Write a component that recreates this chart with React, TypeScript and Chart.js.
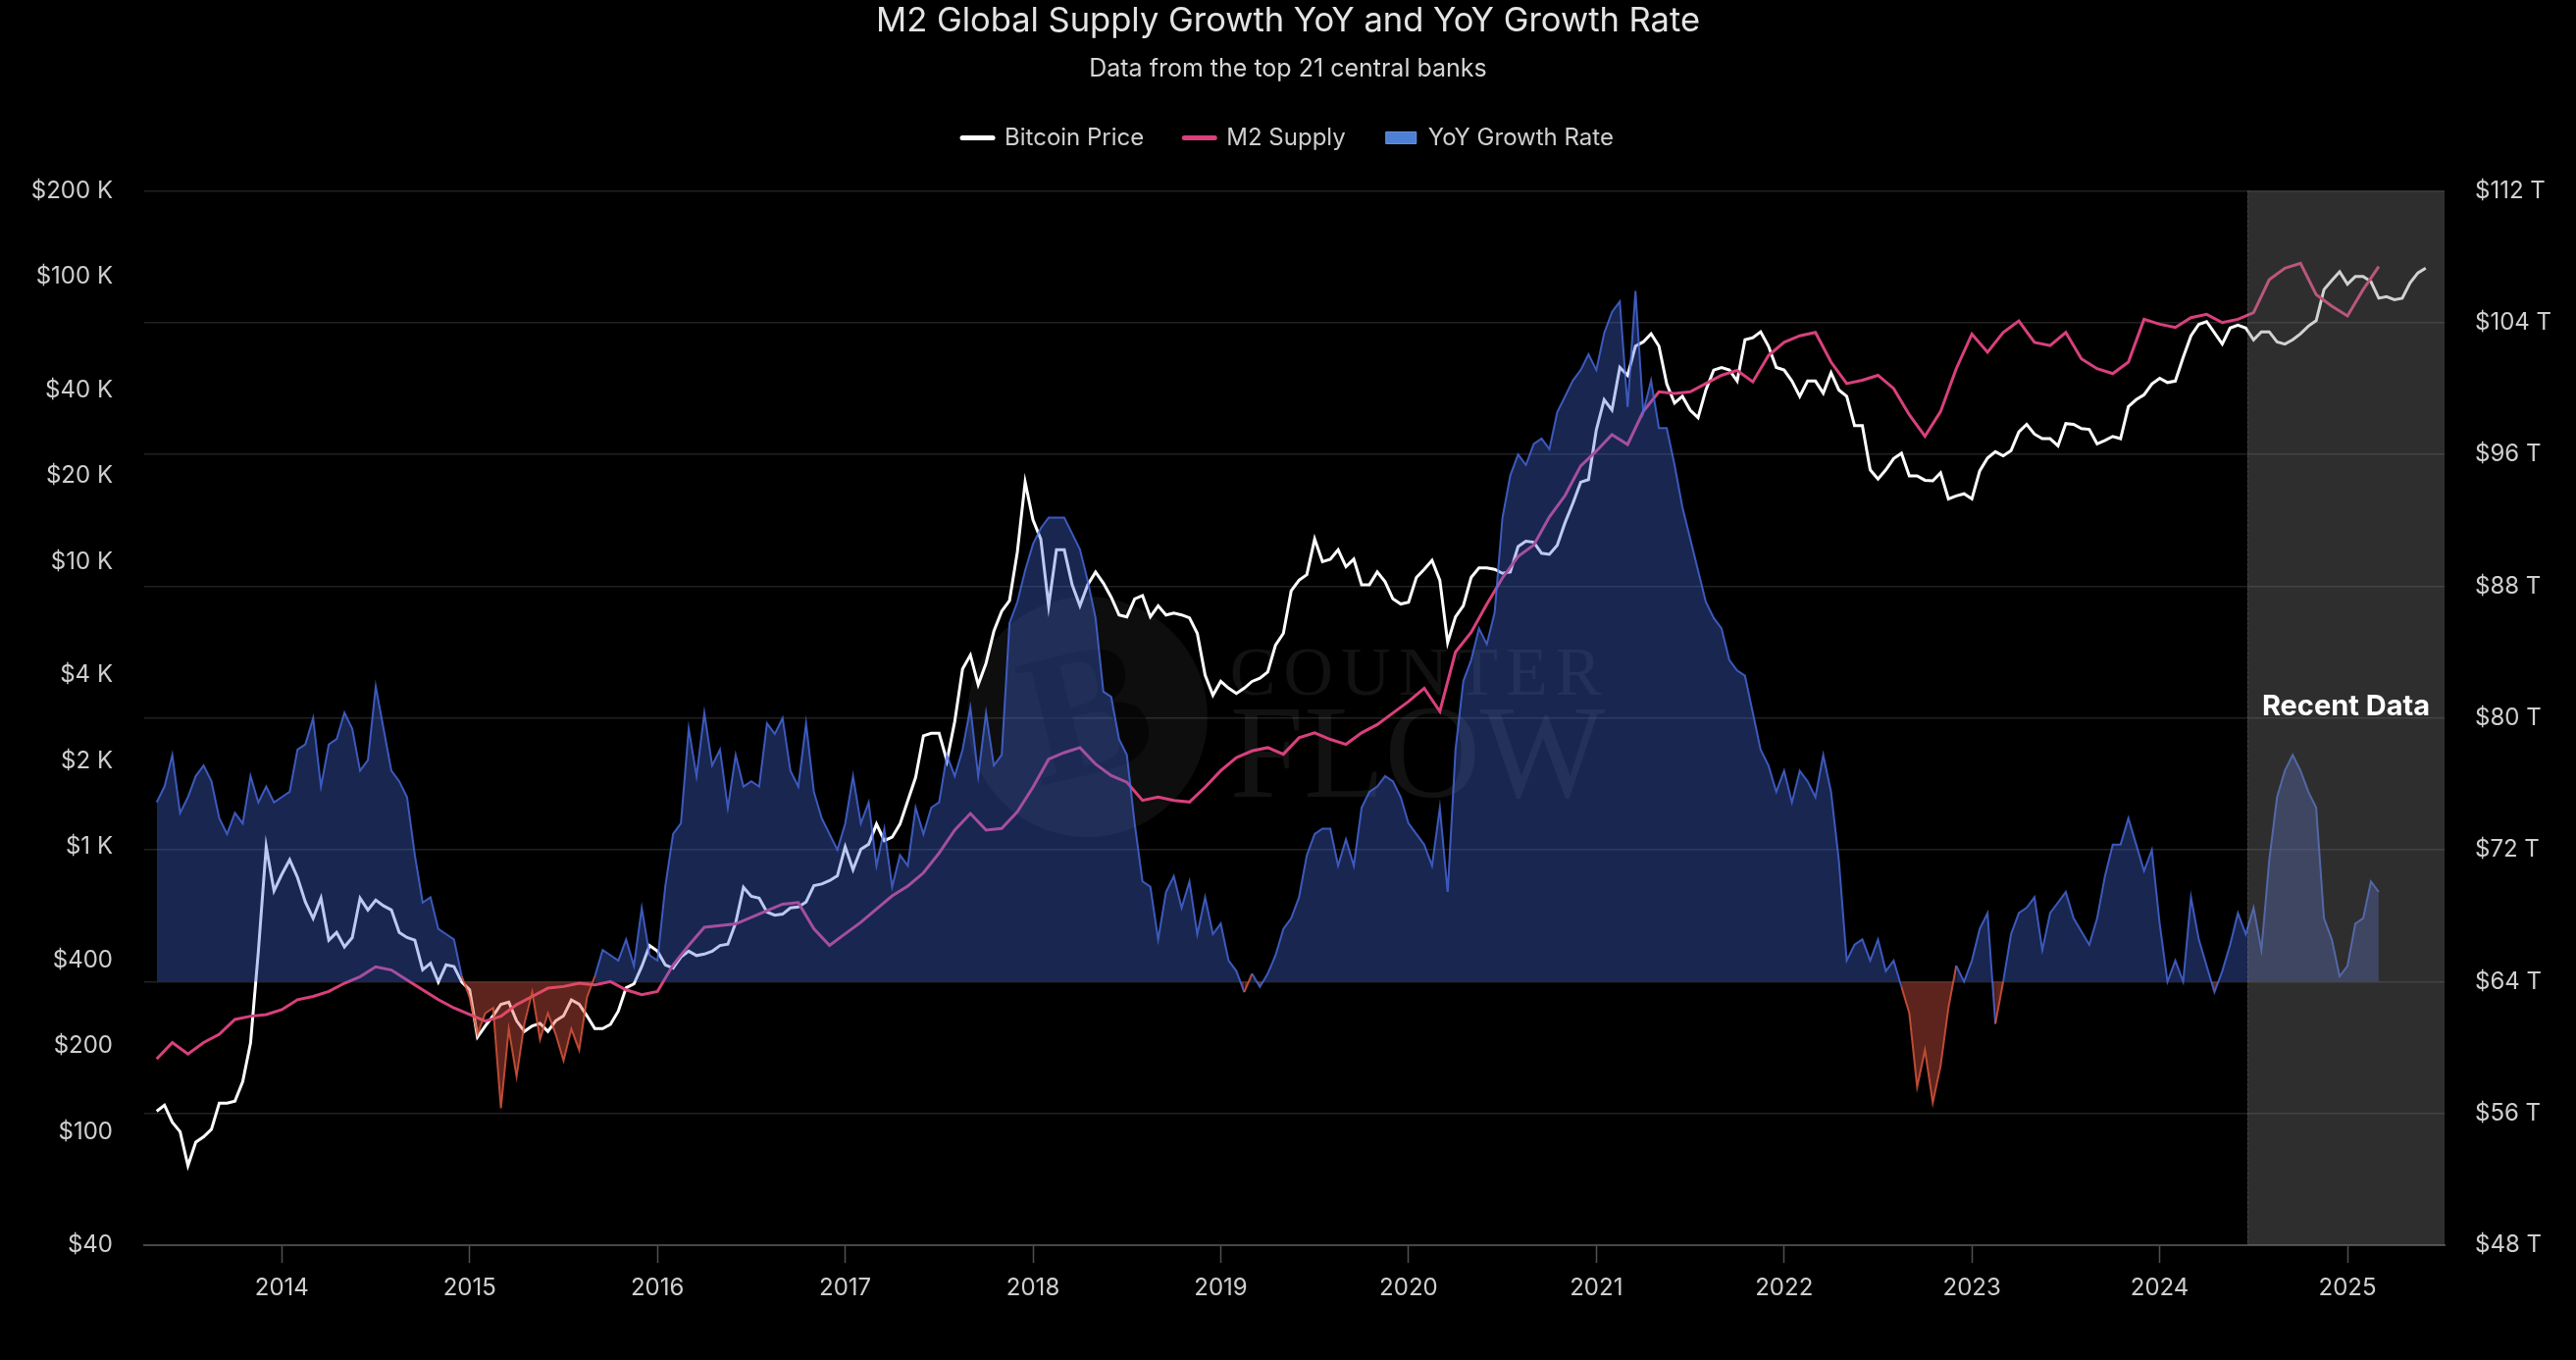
import { useEffect, useRef } from 'react'
import Chart from 'chart.js/auto'

const FONT = 'Inter'

// every series starts on 1 May 2013
const FIRST_SAMPLE = 2013 + 4 / 12

// Bitcoin weekly close, read twice a month (USD)
const btcPrice = [
  118, 124, 108, 100, 76, 92, 96, 102, 126, 126, 128, 150, 205, 430, 1000, 700, // 2013 May-Dec
  800, 900, 780, 640, 560, 660, 470, 500, 445, 480, 660, 600, 650, 620, 600, 500, 480, 470, 370, 390, 335, 385, 380, 335,
  315, 215, 235, 255, 280, 285, 245, 225, 235, 240, 225, 245, 255, 290, 280, 255, 230, 230, 238, 265, 320, 330, 380, 450,
  430, 385, 375, 410, 430, 415, 420, 430, 450, 455, 540, 720, 670, 660, 590, 575, 580, 610, 615, 640, 730, 740, 760, 790,
  1000, 830, 980, 1020, 1200, 1050, 1080, 1200, 1450, 1750, 2450, 2500, 2500, 2000, 2750, 4200, 4700, 3700, 4400, 5700, 6700, 7300, 10800, 19000,
  14000, 12000, 7000, 11000, 11000, 8300, 7000, 8300, 9200, 8400, 7500, 6500, 6400, 7400, 7600, 6400, 7000, 6500, 6600, 6500, 6350, 5600, 4000, 3400,
  3800, 3600, 3450, 3600, 3800, 3900, 4100, 5100, 5600, 7900, 8600, 9000, 12000, 10000, 10200, 11000, 9600, 10200, 8300, 8300, 9200, 8500, 7400, 7100,
  7200, 8800, 9400, 10100, 8600, 5200, 6400, 7000, 8800, 9500, 9500, 9400, 9100, 9200, 11300, 11800, 11700, 10700, 10600, 11400, 13700, 16000, 19000, 19400,
  29000, 37000, 34000, 48000, 45000, 57000, 59000, 63000, 57000, 42000, 36000, 38000, 34000, 32000, 40000, 47000, 48000, 47000, 43000, 60000, 61000, 64000, 57000, 48000,
  47000, 43000, 38000, 43000, 43000, 39000, 46000, 40000, 38000, 30000, 30000, 21000, 19500, 21000, 23000, 24000, 20000, 20000, 19300, 19200, 20500, 16600, 17000, 17300,
  16600, 20800, 23100, 24300, 23500, 24500, 28500, 30300, 28000, 27000, 27000, 25500, 30500, 30300, 29300, 29100, 25900, 26600, 27500, 27000, 35000, 37000, 38500, 42000,
  44000, 42500, 43000, 52000, 62000, 68000, 69500, 63500, 58000, 66000, 67500, 66000, 60000, 64000, 64000, 59000, 58000, 60000, 63000, 67000, 70000, 90000, 97000, 104000,
  94000, 100000, 100000, 96000, 84000, 85000, 83000, 84000, 95000, 103000, 107000, // 2025 Jan-Jun
]

// global M2 year-over-year growth, twice a month (%)
const yoyGrowth = [
  3.4, 3.7, 4.3, 3.2, 3.5, 3.9, 4.1, 3.8, 3.1, 2.8, 3.2, 3.0, 3.9, 3.4, 3.7, 3.4, // 2013 May-Dec
  3.5, 3.6, 4.4, 4.5, 5.0, 3.7, 4.5, 4.6, 5.1, 4.8, 4.0, 4.2, 5.6, 4.8, 4.0, 3.8, 3.5, 2.4, 1.5, 1.6, 1.0, 0.9, 0.8, 0.1,
  -0.3, -1.0, -0.6, -0.5, -2.4, -0.9, -1.8, -0.8, -0.2, -1.1, -0.6, -1.0, -1.5, -0.9, -1.3, -0.3, 0.1, 0.6, 0.5, 0.4, 0.8, 0.3, 1.4, 0.5,
  0.4, 1.8, 2.8, 3.0, 4.8, 3.9, 5.1, 4.1, 4.4, 3.3, 4.3, 3.7, 3.8, 3.7, 4.9, 4.7, 5.0, 4.0, 3.7, 4.9, 3.6, 3.1, 2.8, 2.5,
  3.0, 3.9, 3.0, 3.4, 2.2, 2.9, 1.8, 2.4, 2.2, 3.3, 2.8, 3.3, 3.4, 4.3, 3.9, 4.4, 5.2, 3.9, 5.1, 4.1, 4.3, 6.8, 7.2, 7.8,
  8.3, 8.6, 8.8, 8.8, 8.8, 8.5, 8.2, 7.6, 6.9, 5.5, 5.4, 4.6, 4.3, 3.0, 1.9, 1.8, 0.8, 1.7, 2.0, 1.4, 1.9, 0.9, 1.6, 0.9,
  1.1, 0.4, 0.2, -0.2, 0.15, -0.1, 0.15, 0.5, 1.0, 1.2, 1.6, 2.4, 2.8, 2.9, 2.9, 2.2, 2.7, 2.2, 3.3, 3.6, 3.7, 3.9, 3.8, 3.5,
  3.0, 2.8, 2.6, 2.2, 3.3, 1.7, 4.4, 5.7, 6.1, 6.7, 6.4, 7.0, 8.8, 9.6, 10.0, 9.8, 10.2, 10.3, 10.1, 10.8, 11.1, 11.4, 11.6, 11.9,
  11.6, 12.3, 12.7, 12.9, 10.9, 13.1, 10.8, 11.4, 10.5, 10.5, 9.8, 9.0, 8.4, 7.8, 7.2, 6.9, 6.7, 6.1, 5.9, 5.8, 5.1, 4.4, 4.1, 3.6,
  4.0, 3.4, 4.0, 3.8, 3.5, 4.3, 3.6, 2.3, 0.4, 0.7, 0.8, 0.4, 0.8, 0.2, 0.4, -0.1, -0.6, -2.0, -1.3, -2.3, -1.6, -0.5, 0.3, 0.0,
  0.4, 1.0, 1.3, -0.8, 0.0, 0.9, 1.3, 1.4, 1.6, 0.6, 1.3, 1.5, 1.7, 1.2, 0.95, 0.7, 1.2, 2.0, 2.6, 2.6, 3.1, 2.6, 2.1, 2.5,
  1.1, 0.0, 0.4, 0.0, 1.6, 0.8, 0.3, -0.2, 0.2, 0.7, 1.3, 0.9, 1.4, 0.6, 2.3, 3.5, 4.0, 4.3, 4.0, 3.6, 3.3, 1.2, 0.8, 0.1,
  0.3, 1.1, 1.2, 1.9, 1.7, // 2025 Jan-Mar
]

// M2 supply of the top 21 central banks, monthly (USD trillions)
const m2Supply = [
  59.3, 60.3, 59.6, 60.3, 60.8, 61.7, 61.9, 62.0, // 2013 May-Dec
  62.3, 62.9, 63.1, 63.4, 63.9, 64.3, 64.9, 64.7, 64.1, 63.5, 62.9, 62.4,
  62.0, 61.6, 61.9, 62.6, 63.1, 63.6, 63.7, 63.9, 63.8, 64.0, 63.5, 63.2,
  63.4, 65.0, 66.2, 67.3, 67.4, 67.5, 67.9, 68.3, 68.7, 68.8, 67.2, 66.2,
  66.9, 67.6, 68.4, 69.2, 69.8, 70.6, 71.8, 73.2, 74.2, 73.2, 73.3, 74.3,
  75.8, 77.5, 77.9, 78.2, 77.2, 76.5, 76.1, 75.0, 75.2, 75.0, 74.9, 75.8,
  76.8, 77.6, 78.0, 78.2, 77.8, 78.8, 79.1, 78.7, 78.4, 79.1, 79.6, 80.3,
  81.0, 81.8, 80.4, 84.0, 85.2, 86.9, 88.5, 89.8, 90.5, 92.2, 93.5, 95.3,
  96.2, 97.2, 96.6, 98.6, 99.8, 99.7, 99.8, 100.3, 100.8, 101.1, 100.4, 102.0,
  102.8, 103.2, 103.4, 101.6, 100.3, 100.5, 100.8, 100.0, 98.4, 97.1, 98.6, 101.2,
  103.3, 102.2, 103.4, 104.1, 102.8, 102.6, 103.4, 101.8, 101.2, 100.9, 101.6, 104.2,
  103.9, 103.7, 104.3, 104.5, 104.0, 104.2, 104.6, 106.6, 107.3, 107.6, 105.7, 105.0,
  104.4, 106.0, 107.4, // 2025 Jan-Mar
]

const yearTicks = [2014, 2015, 2016, 2017, 2018, 2019, 2020, 2021, 2022, 2023, 2024, 2025]
const usdTicks = [40, 100, 200, 400, 1000, 2000, 4000, 10000, 20000, 40000, 100000, 200000]
const m2Ticks = [48, 56, 64, 72, 80, 88, 96, 104, 112]

const X_MIN = 2013.267
const X_MAX = 2025.517
const RECENT_FROM = 2024.467 // start of the "Recent Data" band
const RECENT_LABEL_AT = 80.7 // height of its label, on the M2 axis

const WHITE = '#ffffff'
const PINK = '#d9407c'
const BLUE_FILL = 'rgba(69, 105, 222, 0.36)'
const BLUE_LINE = 'rgba(72, 108, 225, 0.8)'
const RED_FILL = 'rgba(230, 90, 70, 0.4)'
const RED_LINE = 'rgba(215, 85, 60, 0.85)'
const TICK_COLOR = '#cfcfcf'

const toPoints = (values: number[], perYear: number) =>
  values.map((y, i) => ({ x: FIRST_SAMPLE + i / perYear, y }))

const usdLabel = (v: number) => (v >= 1000 ? `$${v / 1000} K` : `$${v}`)

// extra room between the legend and the plot
const legendGap = {
  id: 'legendGap',
  beforeLayout(chart: any) {
    const legend = chart.legend
    if (!legend || legend._gapPatched) return
    const fit = legend.fit
    legend.fit = function () {
      fit.call(this)
      this.height += 32
    }
    legend._gapPatched = true
  },
}

const watermark = {
  id: 'watermark',
  beforeDatasetsDraw(chart: any) {
    const { ctx, chartArea: a } = chart
    const w = a.right - a.left
    const h = a.bottom - a.top
    const cx = a.left + w * 0.41
    const cy = a.top + h * 0.499
    ctx.save()
    ctx.fillStyle = 'rgba(255, 255, 255, 0.055)'
    ctx.beginPath()
    ctx.arc(cx, cy, h * 0.114, 0, Math.PI * 2)
    ctx.fill()
    ctx.translate(cx, cy)
    ctx.rotate(-0.24)
    ctx.fillStyle = 'rgba(0, 0, 0, 0.55)'
    ctx.font = 'bold 190px "Liberation Serif"'
    ctx.textAlign = 'center'
    ctx.textBaseline = 'middle'
    ctx.fillText('B', 0, 8)
    ctx.restore()

    ctx.save()
    const c = ctx as any
    ctx.fillStyle = 'rgba(255, 255, 255, 0.07)'
    ctx.textAlign = 'left'
    ctx.textBaseline = 'alphabetic'
    const tx = a.left + w * 0.472
    ctx.font = '70px "Liberation Serif"'
    c.letterSpacing = '8px'
    ctx.fillText('COUNTER', tx, a.top + h * 0.4777)
    c.letterSpacing = '0px'
    ctx.font = '135px "Liberation Serif"'
    ctx.fillText('FLOW', tx, a.top + h * 0.5745)
    ctx.restore()
  },
}

const recentBand = {
  id: 'recentBand',
  afterDatasetsDraw(chart: any) {
    const { ctx, chartArea: a, scales } = chart
    const left = scales.x.getPixelForValue(RECENT_FROM)
    ctx.save()
    ctx.fillStyle = 'rgba(128, 128, 128, 0.36)'
    ctx.fillRect(left, a.top, a.right - left, a.bottom - a.top)
    ctx.strokeStyle = 'rgba(255, 255, 255, 0.14)'
    ctx.lineWidth = 1
    ctx.setLineDash([2, 3])
    ctx.beginPath()
    ctx.moveTo(left + 0.5, a.top)
    ctx.lineTo(left + 0.5, a.bottom)
    ctx.stroke()
    ctx.setLineDash([])
    ctx.fillStyle = '#ffffff'
    ctx.font = `700 29px ${FONT}`
    ctx.textAlign = 'center'
    ctx.textBaseline = 'middle'
    ctx.fillText('Recent Data', (left + a.right) / 2, scales.m2.getPixelForValue(RECENT_LABEL_AT))
    ctx.restore()
  },
}

export default function App() {
  const canvasRef = useRef<HTMLCanvasElement>(null)

  useEffect(() => {
    if (!canvasRef.current) return

    const chart = new Chart(canvasRef.current, {
      type: 'line',
      data: {
        datasets: [
          {
            label: 'Bitcoin Price',
            data: toPoints(btcPrice, 24),
            yAxisID: 'btc',
            borderColor: WHITE,
            backgroundColor: WHITE,
            borderWidth: 3,
            pointRadius: 0,
            tension: 0,
            order: 2,
          },
          {
            label: 'M2 Supply',
            data: toPoints(m2Supply, 12),
            yAxisID: 'm2',
            borderColor: PINK,
            backgroundColor: PINK,
            borderWidth: 3,
            pointRadius: 0,
            tension: 0,
            order: 1,
          },
          {
            // drawn last so its translucent fill sits over the two lines
            label: 'YoY Growth Rate',
            data: toPoints(yoyGrowth, 24),
            yAxisID: 'yoy',
            borderColor: BLUE_LINE,
            backgroundColor: BLUE_FILL,
            borderWidth: 2,
            pointRadius: 0,
            tension: 0,
            fill: { target: { value: 0 }, above: BLUE_FILL, below: RED_FILL },
            segment: {
              borderColor: (c: any) => (c.p0.parsed.y + c.p1.parsed.y < 0 ? RED_LINE : BLUE_LINE),
            },
            order: 0,
          },
        ],
      },
      options: {
        responsive: true,
        maintainAspectRatio: false,
        animation: false,
        events: [],
        layout: { padding: 0 },
        plugins: {
          title: {
            display: true,
            text: 'M2 Global Supply Growth YoY and YoY Growth Rate',
            color: '#e4e4e4',
            font: { family: FONT, size: 34.5, weight: 400 as any, lineHeight: 1.2 },
            padding: { top: 0.6, bottom: 6 },
          },
          subtitle: {
            display: true,
            text: 'Data from the top 21 central banks',
            color: '#d6d6d6',
            font: { family: FONT, size: 25, lineHeight: 1.2 },
            padding: { top: 7.4, bottom: 2 },
          },
          legend: {
            display: true,
            position: 'top',
            labels: {
              color: TICK_COLOR,
              font: { family: FONT, size: 24 },
              usePointStyle: true,
              pointStyleWidth: 31,
              boxHeight: 12,
              padding: 41,
              sort: (a: any, b: any) => a.datasetIndex - b.datasetIndex,
              generateLabels: (ch: any) =>
                Chart.defaults.plugins.legend.labels.generateLabels(ch).map((item: any) =>
                  item.datasetIndex === 2
                    ? { ...item, pointStyle: 'rect', fillStyle: '#4d7fd6', strokeStyle: '#6f9be6', lineWidth: 1 }
                    : {
                        ...item,
                        pointStyle: 'line',
                        strokeStyle: item.datasetIndex === 0 ? WHITE : PINK,
                        lineWidth: 5,
                        lineCap: 'round',
                      },
                ),
            },
          },
          tooltip: { enabled: false },
        },
        scales: {
          x: {
            type: 'linear',
            min: X_MIN,
            max: X_MAX,
            afterBuildTicks: (s: any) => {
              s.ticks = yearTicks.map((value) => ({ value }))
            },
            afterFit: (s: any) => {
              s.height = 117
            },
            ticks: {
              autoSkip: false,
              maxRotation: 0,
              color: TICK_COLOR,
              font: { family: FONT, size: 24 },
              padding: 11,
              callback: (v: any) => String(v),
            },
            grid: { drawOnChartArea: false, drawTicks: true, tickLength: 18, tickColor: '#505050', tickWidth: 1.5 },
            border: { display: true, color: '#474747', width: 2 },
          },
          btc: {
            type: 'logarithmic',
            position: 'left',
            min: 40,
            max: 200000,
            afterBuildTicks: (s: any) => {
              s.ticks = usdTicks.map((value) => ({ value }))
            },
            afterFit: (s: any) => {
              s.width = 147
            },
            ticks: {
              color: TICK_COLOR,
              font: { family: FONT, size: 24 },
              padding: 32,
              callback: (v: any) => usdLabel(Number(v)),
            },
            grid: { display: false, drawTicks: false },
            border: { display: false },
          },
          m2: {
            type: 'linear',
            position: 'right',
            min: 48,
            max: 112,
            afterBuildTicks: (s: any) => {
              s.ticks = m2Ticks.map((value) => ({ value }))
            },
            afterFit: (s: any) => {
              s.width = 134
            },
            ticks: {
              color: TICK_COLOR,
              font: { family: FONT, size: 24 },
              padding: 31,
              callback: (v: any) => `$${v} T`,
            },
            grid: { color: 'rgba(255, 255, 255, 0.13)', lineWidth: 1.5, drawTicks: false },
            border: { display: false },
          },
          yoy: {
            type: 'linear',
            display: false,
            min: -5,
            max: 15,
          },
        },
      },
      plugins: [legendGap, watermark, recentBand],
    } as any)

    return () => {
      chart.destroy()
    }
  }, [])

  return (
    <div style={{ position: 'fixed', left: 0, top: 0, width: '100vw', height: '100vh', background: '#000' }}>
      <canvas ref={canvasRef} />
    </div>
  )
}
